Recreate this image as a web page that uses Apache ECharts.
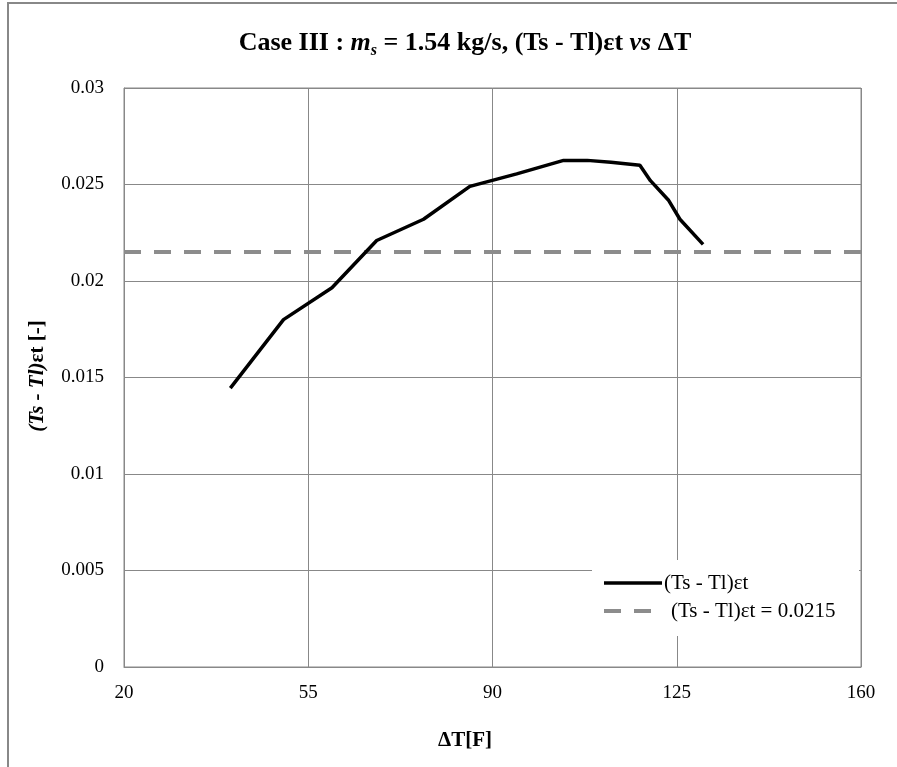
<!DOCTYPE html>
<html>
<head>
<meta charset="utf-8">
<script src="https://cdn.jsdelivr.net/npm/echarts@6/dist/echarts.min.js"></script>
<style>
  html, body { margin: 0; padding: 0; background: #fff; }
  #chart { width: 897px; height: 767px; }
</style>
</head>
<body>
<div id="chart"></div>
<script>
// ΔT [F] values and the measured (Ts - Tl)εt at each one
const deltaT = [40.2, 50.3, 59.5, 68.0, 76.9, 85.7, 94.6, 103.5, 108.0, 112.5, 118.0, 120.0, 123.4, 125.6, 130.0];
const tsTlEt = [0.01445, 0.0180, 0.01965, 0.0221, 0.0232, 0.0249, 0.02555, 0.02625, 0.02625, 0.02615, 0.0260, 0.0252, 0.0242, 0.0232, 0.0219];

// Constant reference level drawn across the whole x range
const refLevel = 0.0215;
const refX = [20, 160];

const seriesNames = ['(Ts - Tl)εt', '(Ts - Tl)εt = 0.0215'];

const serif = "'Liberation Serif', 'Times New Roman', serif";

const mainData = deltaT.map((x, i) => [x, tsTlEt[i]]);
const refData = refX.map(x => [x, refLevel]);

const mainLine = { color: '#000', width: 3.5 };
const refLine = { color: '#8c8c8c', width: 4, type: [17, 13] };

const chart = echarts.init(document.getElementById('chart'), null, { renderer: 'canvas' });

chart.setOption({
  animation: false,
  backgroundColor: '#fff',
  title: {
    left: 460,
    top: 22,
    textAlign: 'center',
    text: '{b|Case III : }{i|m}{sub|s}{b| = 1.54 kg/s, (Ts - Tl)εt }{i|vs}{b| ΔT}',
    textStyle: {
      rich: {
        b: { fontFamily: serif, fontWeight: 'bold', fontSize: 26, color: '#000', lineHeight: 32 },
        i: { fontFamily: serif, fontWeight: 'bold', fontStyle: 'italic', fontSize: 26, color: '#000', lineHeight: 32 },
        sub: { fontFamily: serif, fontWeight: 'bold', fontStyle: 'italic', fontSize: 16, color: '#000', lineHeight: 15, verticalAlign: 'bottom' }
      }
    }
  },
  grid: {
    left: 124,
    right: 36,
    top: 88,
    bottom: 100,
    show: true,
    borderColor: '#888',
    borderWidth: 1,
    backgroundColor: 'transparent'
  },
  xAxis: {
    type: 'value',
    min: 20,
    max: 160,
    interval: 35,
    axisLine: { show: true, lineStyle: { color: '#888', width: 1 } },
    axisTick: { show: false },
    axisLabel: { fontFamily: serif, fontSize: 19, color: '#000', margin: 17 },
    splitLine: { show: true, lineStyle: { color: '#888', width: 1 } }
  },
  yAxis: {
    type: 'value',
    min: 0,
    max: 0.03,
    interval: 0.005,
    axisLine: { show: true, lineStyle: { color: '#888', width: 1 } },
    axisTick: { show: false },
    axisLabel: { fontFamily: serif, fontSize: 19, color: '#000', margin: 20 },
    splitLine: { show: true, lineStyle: { color: '#888', width: 1 } }
  },
  legend: {
    orient: 'vertical',
    left: 592,
    top: 561,
    padding: [11, 10, 10, 10],
    itemWidth: 58,
    itemHeight: 14,
    itemGap: 6,
    z: 5,
    itemStyle: { opacity: 0 },
    textStyle: { fontFamily: serif, fontSize: 21, color: '#000', lineHeight: 22, padding: [0, 0, 0, -3] },
    data: [
      { name: seriesNames[0], lineStyle: mainLine },
      { name: seriesNames[1], lineStyle: refLine, textStyle: { padding: [0, 0, 0, 4] } }
    ]
  },
  graphic: [
    // outer frame of the chart area
    {
      type: 'rect',
      z: 1,
      shape: { x: 8, y: 3, width: 900, height: 800 },
      style: { fill: 'none', stroke: '#888', lineWidth: 2 }
    },
    // white panel behind the legend
    {
      type: 'rect',
      z: 3,
      shape: { x: 592, y: 560, width: 267, height: 76 },
      style: { fill: '#fff', stroke: 'none' }
    },
    // y-axis title
    {
      type: 'text',
      z: 5,
      x: 38,
      y: 376,
      rotation: Math.PI / 2,
      style: {
        text: '{bi|(Ts - Tl)}{b|εt [-]}',
        align: 'center',
        verticalAlign: 'middle',
        rich: {
          bi: { fontFamily: serif, fontWeight: 'bold', fontStyle: 'italic', fontSize: 21, fill: '#000' },
          b: { fontFamily: serif, fontWeight: 'bold', fontSize: 21, fill: '#000' }
        }
      }
    },
    // x-axis title
    {
      type: 'text',
      z: 5,
      x: 465,
      y: 741,
      style: {
        text: 'ΔT[F]',
        align: 'center',
        verticalAlign: 'middle',
        fontFamily: serif,
        fontWeight: 'bold',
        fontSize: 21,
        fill: '#000'
      }
    }
  ],
  series: [
    {
      name: seriesNames[0],
      type: 'line',
      data: mainData,
      symbol: 'none',
      smooth: false,
      z: 3,
      lineStyle: mainLine,
      itemStyle: { color: '#000' }
    },
    {
      name: seriesNames[1],
      type: 'line',
      data: refData,
      symbol: 'none',
      z: 2,
      lineStyle: refLine,
      itemStyle: { color: '#8c8c8c' }
    }
  ]
});
</script>
</body>
</html>
